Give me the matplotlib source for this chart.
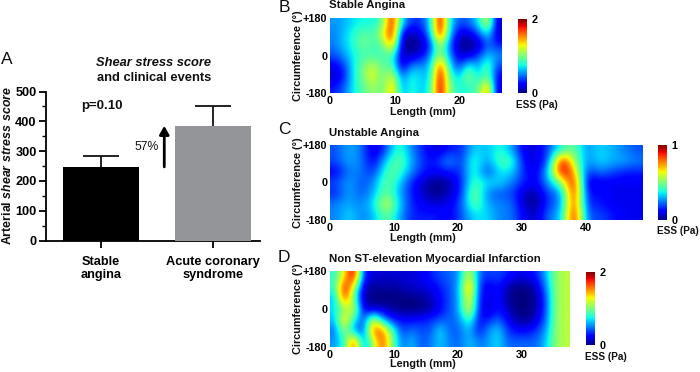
import numpy as np
import matplotlib
matplotlib.use('Agg')
import matplotlib.pyplot as plt

plt.rcParams['font.family'] = ['Liberation Sans', 'DejaVu Sans']
plt.rcParams['mathtext.fontset'] = 'custom'
plt.rcParams['mathtext.rm'] = 'Liberation Sans:bold'
plt.rcParams['mathtext.bfit'] = 'Liberation Sans:italic:bold'

W, H = 700, 372

# bar panel
bar_labels = ['Stable\nangina', 'Acute coronary\nsyndrome']
bar_values = [245, 385]
bar_errors = [40, 68]
bar_colors = ['#000000', '#939598']
bar_yticks = [0, 100, 200, 300, 400, 500]

# wall shear stress maps (Pa), rows run +180 -> -180 deg, columns along the length
length_b = 26.5
ess_b = [
    [.55, .6, .7, .75, .75, .9, 1.9, .7, .35, .35, .65, 2.0, .75, .4, .45, .7, 1.3, .1],
    [.5, .65, .8, .95, .85, 1.2, 1.9, .2, .05, .2, .55, 1.9, .65, .15, .15, .35, .75, .1],
    [.5, .65, .8, 1.0, .85, .9, 1.6, .05, .0, .05, .3, 1.2, .45, .03, .0, .05, .45, .3],
    [.4, .55, .75, .85, .85, .85, .85, .1, .1, .2, .5, 1.15, .55, .15, .15, .35, .65, .55],
    [.2, .35, .75, 1.0, 1.2, .9, .95, .1, .55, .55, .6, 1.8, .75, .3, .85, .55, 1.0, .35],
    [.1, .3, .75, 1.0, 1.3, .9, 1.3, .45, .8, .65, .65, 2.0, .9, .65, 1.1, .65, 1.0, .2],
    [.3, .45, .75, .9, 1.1, .9, 1.5, .55, .8, .65, .75, 2.0, 1.0, .75, .8, .9, 1.6, .1],
]
length_c = 49
ess_c = [
    [.2, .3, .25, .05, .2, .45, .25, .15, .05, .15, .15, .35, .3, .4, .3, .08, .08, .2, .4, .5, .25, .35, .3, .25, .2],
    [.2, .3, .25, .08, .35, .5, .3, .15, .15, .3, .15, .45, .25, .45, .45, .1, .08, .2, 1.0, .55, .25, .35, .3, .3, .25],
    [.1, .25, .25, .15, .45, .45, .25, .15, .1, .15, .15, .45, .15, .35, .35, .15, .08, .35, 1.0, .75, .15, .25, .2, .15, .15],
    [.2, .3, .2, .25, .5, .35, .15, .05, .0, .03, .15, .45, .35, .35, .25, .15, .1, .3, .5, 1.0, .05, .1, .1, .1, .1],
    [.15, .3, .2, .3, .5, .3, .15, .05, .0, .05, .15, .55, .25, .2, .2, .05, .03, .2, .25, 1.0, .1, .15, .1, .1, .1],
    [.25, .3, .25, .35, .65, .35, .15, .1, .08, .1, .2, .5, .3, .25, .25, .05, .0, .2, .25, .95, .15, .15, .1, .1, .1],
    [.25, .35, .25, .3, .5, .3, .15, .15, .15, .1, .2, .35, .35, .25, .25, .1, .05, .25, .3, 1.0, .2, .2, .15, .1, .1],
]
length_d = 37.5
ess_d = [
    [.8, 1.3, 2.0, .3, .15, .15, .15, .15, .15, .2, .3, .4, .45, .55, 1.3, .45, .35, .4, .3, .2, .2, .3, .6, 1.05, 1.15],
    [.8, 1.9, 1.2, .08, .05, .05, .05, .1, .15, .15, .2, .3, .4, .6, 1.7, .35, .15, .3, .05, .0, .0, .1, .5, 1.05, 1.15],
    [.6, 1.8, .9, .05, .0, .0, .0, .0, .0, .05, .1, .25, .4, .6, 1.4, .35, .15, .3, .05, .0, .0, .05, .4, 1.05, 1.15],
    [.7, 1.0, 1.3, .15, .1, .1, .05, .0, .0, .0, .05, .25, .4, .6, 1.4, .3, .1, .3, .1, .0, .0, .05, .4, 1.05, 1.15],
    [.6, 1.5, .75, .35, 1.3, .6, .3, .25, .25, .3, .35, .4, .45, .5, .9, .25, .3, .45, .25, .05, .03, .15, .45, 1.05, 1.15],
    [.45, 1.1, .5, .35, 1.7, 1.6, .9, .35, .5, .4, .4, .75, .4, .45, .65, .25, .55, .7, .35, .25, .25, .35, .55, 1.05, 1.15],
    [.55, .8, 1.8, .45, 1.1, 1.7, 1.0, .45, .65, .4, .5, .65, .5, .45, .65, .5, .55, .7, .45, .45, .45, .45, .65, 1.05, 1.15],
]

fig = plt.figure(figsize=(W / 100, H / 100), dpi=100)


def px_axes(x0, y0, x1, y1):
    return fig.add_axes([x0 / W, 1 - y1 / H, (x1 - x0) / W, (y1 - y0) / H])


def px_text(x, y, s, **kw):
    kw.setdefault('ha', 'center')
    kw.setdefault('va', 'center')
    kw.setdefault('color', '#111111')
    fig.text(x / W, 1 - y / H, s, **kw)


# A
ax = px_axes(45.7, 91.5, 260, 240.5)
ax.bar([0, 1], bar_values, width=0.68, color=bar_colors, zorder=3)
# upper whisker only, the bar top stays clean
tops = np.array(bar_values) + np.array(bar_errors)
ax.vlines([0, 1], bar_values, tops, color='#111111', lw=1.3, zorder=2)
ax.hlines(tops, [-0.165, 0.835], [0.165, 1.165], color='#111111', lw=1.3, zorder=2)
ax.set_xlim(-0.494, 1.42)
ax.set_ylim(0, 500)
ax.set_xticks([0, 1], bar_labels, fontsize=9.2, fontweight='bold', linespacing=1.15)
ax.set_yticks(bar_yticks)
ax.set_yticks(np.arange(50, 500, 100), minor=True)
ax.tick_params(axis='y', labelsize=9.2, width=1.3, length=5, pad=1.5)
ax.tick_params(axis='y', which='minor', width=1, length=3)
ax.tick_params(axis='x', width=1.3, length=5, pad=6)
for lab in ax.get_yticklabels():
    lab.set_fontweight('bold')
for side in ['top', 'right']:
    ax.spines[side].set_visible(False)
for side in ['left', 'bottom']:
    ax.spines[side].set_linewidth(1.3)
ax.annotate('', xy=(0.565, 385), xytext=(0.565, 247),
            arrowprops=dict(arrowstyle='-|>,head_width=0.28,head_length=0.5', color='black', lw=2, shrinkA=0, shrinkB=0))
px_text(147, 147, '57%', fontsize=8.8)
px_text(102, 106, 'p=0.10', fontsize=9.5, fontweight='bold')
px_text(153, 62.5, 'Shear stress score', fontsize=9.3, fontweight='bold', style='italic')
px_text(154, 78, 'and clinical events', fontsize=9.3, fontweight='bold')
px_text(7.5, 166, r'Arterial $\mathbfit{shear\ stress\ score}$', fontsize=8.9, fontweight='bold', rotation=90)
px_text(7, 60, 'A', fontsize=12.5)


def ess_map(box, cbox, data, length, vmax, xticks, title, title_xy, xlabel_y, esslabel_xy):
    x0, y0, x1, y1 = box
    ax = px_axes(x0, y0, x1, y1)
    im = ax.imshow(np.array(data), cmap='jet', vmin=0, vmax=vmax, aspect='auto',
                   extent=[0, length, -180, 180], interpolation='bicubic')
    ax.set_xticks(xticks)
    ax.set_yticks([-180, 0, 180], ['-180', '0', '+180'])
    ax.tick_params(length=0, labelsize=7.8, pad=2)
    for lab in ax.get_xticklabels() + ax.get_yticklabels():
        lab.set_fontweight('bold')
    for s in ax.spines.values():
        s.set_visible(False)
    px_text(423, xlabel_y, 'Length (mm)', fontsize=7.8, fontweight='bold')
    px_text(298, (y0 + y1) / 2, 'Circumference (°)', fontsize=7.8, fontweight='bold', rotation=90)
    px_text(*title_xy, title, fontsize=8.2, fontweight='bold', ha='left')

    cax = px_axes(*cbox)
    cb = fig.colorbar(im, cax=cax)
    cb.outline.set_visible(False)
    cb.set_ticks([0, vmax], labels=['0', str(vmax)])
    cb.ax.tick_params(length=0, labelsize=7.8, pad=3)
    for lab in cb.ax.get_yticklabels():
        lab.set_fontweight('bold')
    px_text(*esslabel_xy, 'ESS (Pa)', fontsize=7.2, fontweight='bold')


ess_map((330, 18, 502, 93), (518, 19, 527, 93), ess_b, length_b, 2, [0, 10, 20],
        'Stable Angina', (329, 5), 112, (537, 105))
ess_map((330, 145, 643, 220), (658, 145, 667, 220), ess_c, length_c, 1, [0, 10, 20, 30, 40],
        'Unstable Angina', (329, 133), 238, (678, 231))
ess_map((330, 271, 570, 347), (586, 272, 595, 345), ess_d, length_d, 2, [0, 10, 20, 30],
        'Non ST-elevation Myocardial Infarction', (329, 259), 364, (606, 357))

px_text(284, 8, 'B', fontsize=12.5)
px_text(284, 130, 'C', fontsize=12.5)
px_text(284, 257, 'D', fontsize=12.5)

fig.savefig('out.png', dpi=100)
